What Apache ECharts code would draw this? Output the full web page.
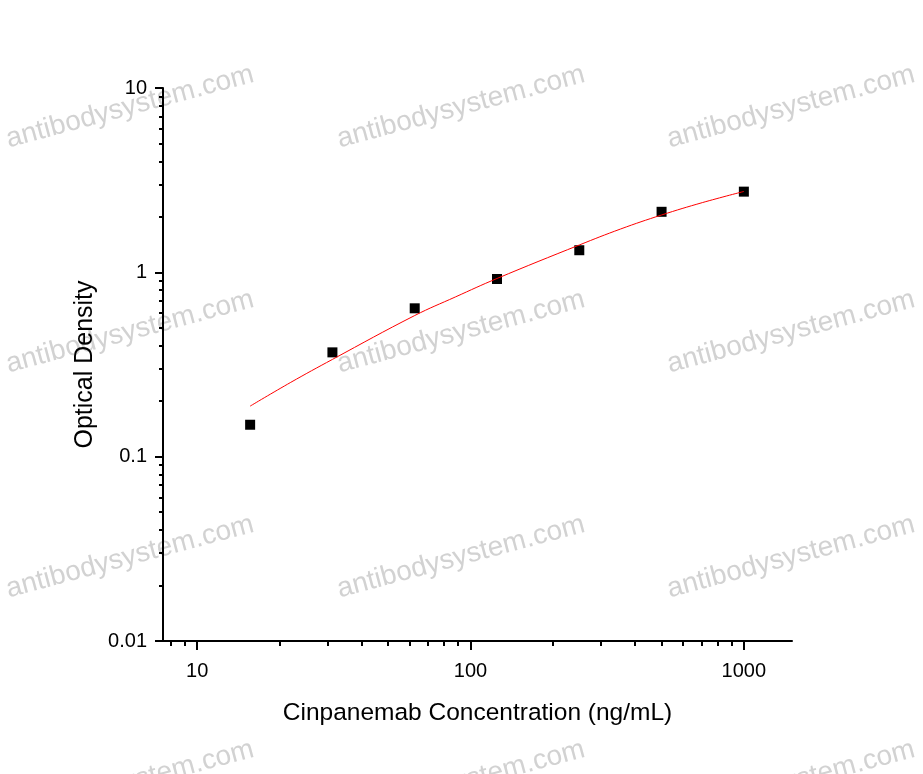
<!DOCTYPE html>
<html><head><meta charset="utf-8">
<script src="https://cdn.jsdelivr.net/npm/echarts@6/dist/echarts.min.js"></script>
<style>html,body{margin:0;padding:0;background:#fff}#c{width:923px;height:774px}</style>
</head><body><div id="c"></div>
<script>
// ---- data ----
const concentrations = [15.625, 31.25, 62.5, 125, 250, 500, 1000];
const odValues = [0.149, 0.368, 0.638, 0.920, 1.318, 2.13, 2.74];
const fitX = [15.625, 22, 31.25, 62.5, 88, 125, 250, 354, 500, 707, 1000];
const fitY = [0.188, 0.253, 0.337, 0.583, 0.735, 0.926, 1.407, 1.718, 2.047, 2.392, 2.746];
const xMajorTicks = [10, 100, 1000];
const xMinorTicks = [8, 9, 20, 30, 40, 50, 60, 70, 80, 90, 200, 300, 400, 500, 600, 700, 800, 900];
const yMajorTicks = [0.01, 0.1, 1, 10];
const yMinorTicks = [0.02, 0.03, 0.04, 0.05, 0.06, 0.07, 0.08, 0.09,
                     0.2, 0.3, 0.4, 0.5, 0.6, 0.7, 0.8, 0.9,
                     2, 3, 4, 5, 6, 7, 8, 9];
const xRange = [7.5, 1500];
const yRange = [0.01, 10];
const xTitle = 'Cinpanemab Concentration (ng/mL)';
const yTitle = 'Optical Density';
const watermarkText = 'antibodysystem.com';

// ---- layout ----
const FONT = 'Arial, "Liberation Sans", Helvetica, sans-serif';
const wmCols = [130, 461, 791];
const wmRows = [107, 332, 557, 782];
const watermarks = [];
wmRows.forEach(function (cy) {
  wmCols.forEach(function (cx) {
    watermarks.push({
      type: 'text', x: cx, y: cy, rotation: 15 * Math.PI / 180, z: -10, silent: true,
      style: { text: watermarkText, fill: '#d2d2d2', fontSize: 28, fontFamily: FONT,
               align: 'center', verticalAlign: 'middle', textAlign: 'center', textVerticalAlign: 'middle' }
    });
  });
});

const axisColor = '#000';
function baseAxis(range) {
  return { type: 'log', logBase: 10, min: range[0], max: range[1], splitLine: { show: false }, minorTick: { show: false }, minorSplitLine: { show: false } };
}

const chart = echarts.init(document.getElementById('c'), null, { renderer: 'canvas' });
chart.setOption({
  backgroundColor: '#fff',
  animation: false,
  graphic: { elements: watermarks },
  grid: { left: 163, right: 131, top: 88, bottom: 133, containLabel: false },
  xAxis: [
    Object.assign(baseAxis(xRange), {
      position: 'bottom', gridIndex: 0,
      name: xTitle, nameLocation: 'middle', nameGap: 60,
      nameTextStyle: { fontSize: 24.5, color: '#000', fontFamily: FONT },
      axisLine: { show: true, onZero: false, lineStyle: { color: axisColor, width: 2 } },
      axisTick: { show: true, inside: false, length: 9, customValues: xMajorTicks, lineStyle: { color: axisColor, width: 2 } },
      axisLabel: { show: true, margin: 20, fontSize: 20, color: '#000', fontFamily: FONT, customValues: xMajorTicks,
                   formatter: function (v) { return String(v); } }
    }),
    Object.assign(baseAxis(xRange), {
      position: 'bottom', gridIndex: 0,
      axisLine: { show: false, onZero: false },
      axisTick: { show: true, inside: false, length: 5, customValues: xMinorTicks, lineStyle: { color: axisColor, width: 2 } },
      axisLabel: { show: false }
    })
  ],
  yAxis: [
    Object.assign(baseAxis(yRange), {
      position: 'left', gridIndex: 0,
      name: yTitle, nameLocation: 'middle', nameGap: 64, nameRotate: 90,
      nameTextStyle: { fontSize: 25, color: '#000', fontFamily: FONT },
      axisLine: { show: true, onZero: false, lineStyle: { color: axisColor, width: 2 } },
      axisTick: { show: true, inside: false, length: 8, customValues: yMajorTicks, lineStyle: { color: axisColor, width: 2 } },
      axisLabel: { show: true, margin: 16, fontSize: 20, color: '#000', fontFamily: FONT, customValues: yMajorTicks,
                   formatter: function (v) { return String(v); } }
    }),
    Object.assign(baseAxis(yRange), {
      position: 'left', gridIndex: 0,
      axisLine: { show: false, onZero: false },
      axisTick: { show: true, inside: false, length: 4, customValues: yMinorTicks, lineStyle: { color: axisColor, width: 2 } },
      axisLabel: { show: false }
    })
  ],
  series: [
    {
      type: 'scatter', xAxisIndex: 0, yAxisIndex: 0, z: 2,
      symbol: 'rect', symbolSize: 10,
      itemStyle: { color: '#000', opacity: 1 },
      data: concentrations.map(function (x, i) { return [x, odValues[i]]; })
    },
    {
      type: 'line', xAxisIndex: 0, yAxisIndex: 0, z: 3,
      smooth: 0.4, showSymbol: false, symbol: 'none',
      lineStyle: { color: '#ff0000', width: 1 },
      data: fitX.map(function (x, i) { return [x, fitY[i]]; })
    }
  ]
});
</script>
</body></html>
